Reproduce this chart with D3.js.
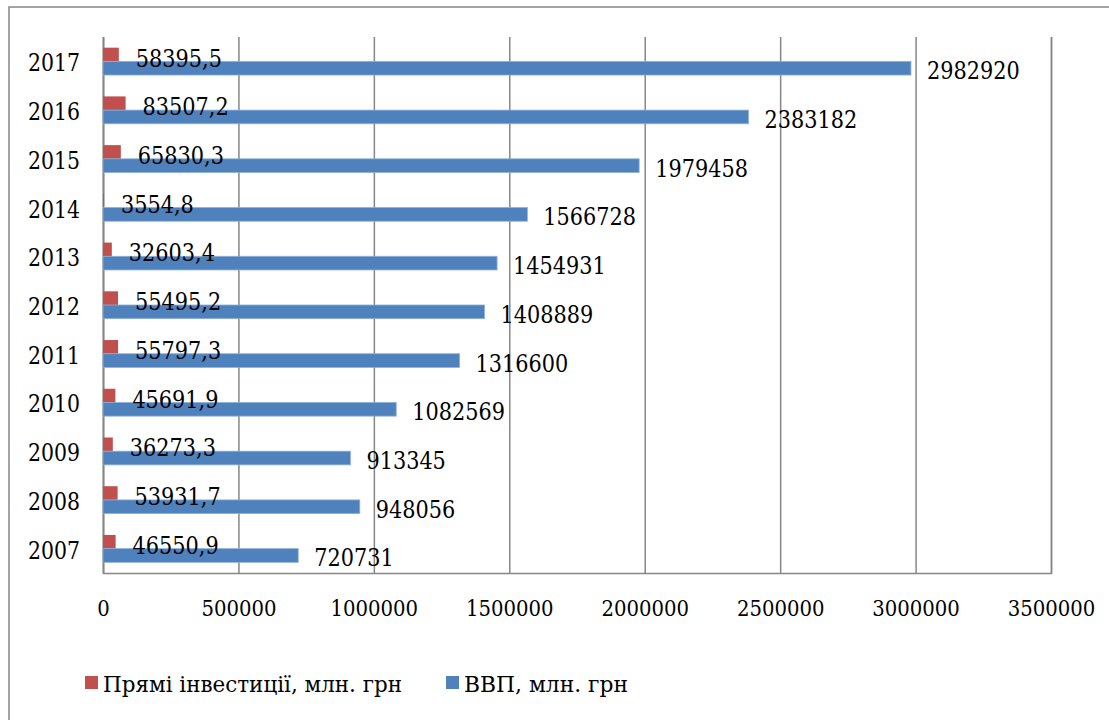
<!DOCTYPE html>
<html>
<head>
<meta charset="utf-8">
<script src="https://cdn.jsdelivr.net/npm/d3@7"></script>
<style>
  body { margin: 0; background: #fff; }
</style>
</head>
<body>
<div class="chart"></div>
<script>
// Data
const years = ["2007", "2008", "2009", "2010", "2011", "2012", "2013", "2014", "2015", "2016", "2017"];
const gdp = [720731, 948056, 913345, 1082569, 1316600, 1408889, 1454931, 1566728, 1979458, 2383182, 2982920];
const fdi = [46550.9, 53931.7, 36273.3, 45691.9, 55797.3, 55495.2, 32603.4, 3554.8, 65830.3, 83507.2, 58395.5];
const xTicks = [0, 500000, 1000000, 1500000, 2000000, 2500000, 3000000, 3500000];
const seriesNames = ["Прямі інвестиції, млн. грн", "ВВП, млн. грн"];
const colors = ["#C0504D", "#4F81BD"];

const W = 1109, H = 720;
const plot = { left: 103, right: 1051, top: 37, bottom: 573 };
const serif = "DejaVu Serif";
const gridColor = "#868686";

// the original uses Times; squeeze DejaVu Serif to Times-like widths
const timesWidth = (s, size) =>
  d3.sum(String(s).split(""), c => (c === "," || c === ".") ? 0.25 : 0.5) * size;

const svg = d3.select(".chart").append("svg")
  .attr("width", W)
  .attr("height", H)
  .attr("font-family", serif);

// chart border: only top and left edges are inside the picture
svg.append("path")
  .attr("d", `M9,${H}V7H${W}`)
  .attr("fill", "none")
  .attr("stroke", gridColor)
  .attr("stroke-width", 1.5);

// Scales
const x = d3.scaleLinear()
  .domain([0, 3500000])
  .range([plot.left, plot.right]);

const y0 = d3.scaleBand()
  .domain(years.slice().reverse())
  .range([plot.top, plot.bottom]);

const y1 = d3.scaleBand()
  .domain(["fdi", "gdp"])
  .range([0, y0.bandwidth()])
  .paddingOuter(0.78);

// x axis with vertical gridlines
const xAxis = svg.append("g")
  .attr("transform", `translate(0,${plot.bottom})`)
  .call(d3.axisBottom(x)
    .tickValues(xTicks)
    .tickFormat(d3.format("d"))
    .tickSize(-(plot.bottom - plot.top))
    .tickPadding(27));
xAxis.attr("font-family", serif).attr("font-size", 23);
xAxis.select(".domain").attr("stroke", gridColor).attr("stroke-width", 1.5);
xAxis.selectAll(".tick line").attr("stroke", gridColor).attr("stroke-width", 1.5);
xAxis.selectAll(".tick text")
  .attr("fill", "#000")
  .attr("textLength", d => timesWidth(d, 25))
  .attr("lengthAdjust", "spacingAndGlyphs");

// y axis (category labels)
const yAxis = svg.append("g")
  .attr("transform", `translate(${plot.left},2)`)
  .call(d3.axisLeft(y0).tickSize(0).tickPadding(23));
yAxis.attr("font-family", serif).attr("font-size", 25);
yAxis.select(".domain").attr("stroke", gridColor).attr("stroke-width", 1.5)
  .attr("transform", "translate(0,-2)");
yAxis.selectAll(".tick text")
  .attr("fill", "#000")
  .attr("textLength", d => timesWidth(d, 26))
  .attr("lengthAdjust", "spacingAndGlyphs");

// Bars
const rows = years.map((yr, i) => ({ year: yr, fdi: fdi[i], gdp: gdp[i] }));

const groups = svg.append("g").selectAll("g")
  .data(rows)
  .join("g")
  .attr("transform", d => `translate(0,${y0(d.year)})`);

groups.append("rect")
  .attr("x", x(0))
  .attr("y", y1("fdi"))
  .attr("width", d => x(d.fdi) - x(0))
  .attr("height", y1.bandwidth())
  .attr("fill", colors[0]);

groups.append("rect")
  .attr("x", x(0))
  .attr("y", y1("gdp"))
  .attr("width", d => x(d.gdp) - x(0))
  .attr("height", y1.bandwidth())
  .attr("fill", colors[1])
  .attr("stroke", "#8fb0d8")
  .attr("stroke-width", 0.8);

// Data labels
const commaFmt = v => String(v).replace(".", ",");

groups.append("text")
  .attr("x", d => x(d.fdi) + 17)
  .attr("y", y1("fdi") + y1.bandwidth() / 2 + 3)
  .attr("dy", "0.36em")
  .attr("font-size", 25)
  .attr("textLength", d => timesWidth(commaFmt(d.fdi), 26.5))
  .attr("lengthAdjust", "spacingAndGlyphs")
  .text(d => commaFmt(d.fdi));

groups.append("text")
  .attr("x", d => x(d.gdp) + 16)
  .attr("y", y1("gdp") + y1.bandwidth() / 2 + 2)
  .attr("dy", "0.36em")
  .attr("font-size", 25)
  .attr("textLength", d => timesWidth(d.gdp, 26.5))
  .attr("lengthAdjust", "spacingAndGlyphs")
  .text(d => d.gdp);

// Legend
const legendX = [85, 446];
const legendTextWidth = [299, 164];
const legend = svg.append("g").selectAll("g")
  .data(seriesNames)
  .join("g")
  .attr("transform", (d, i) => `translate(${legendX[i]},676)`);

legend.append("rect")
  .attr("width", 13)
  .attr("height", 13)
  .attr("fill", (d, i) => colors[i]);

legend.append("text")
  .attr("x", 18)
  .attr("y", 16)
  .attr("font-size", 23)
  .attr("textLength", (d, i) => legendTextWidth[i])
  .attr("lengthAdjust", "spacingAndGlyphs")
  .text(d => d);
</script>
</body>
</html>
